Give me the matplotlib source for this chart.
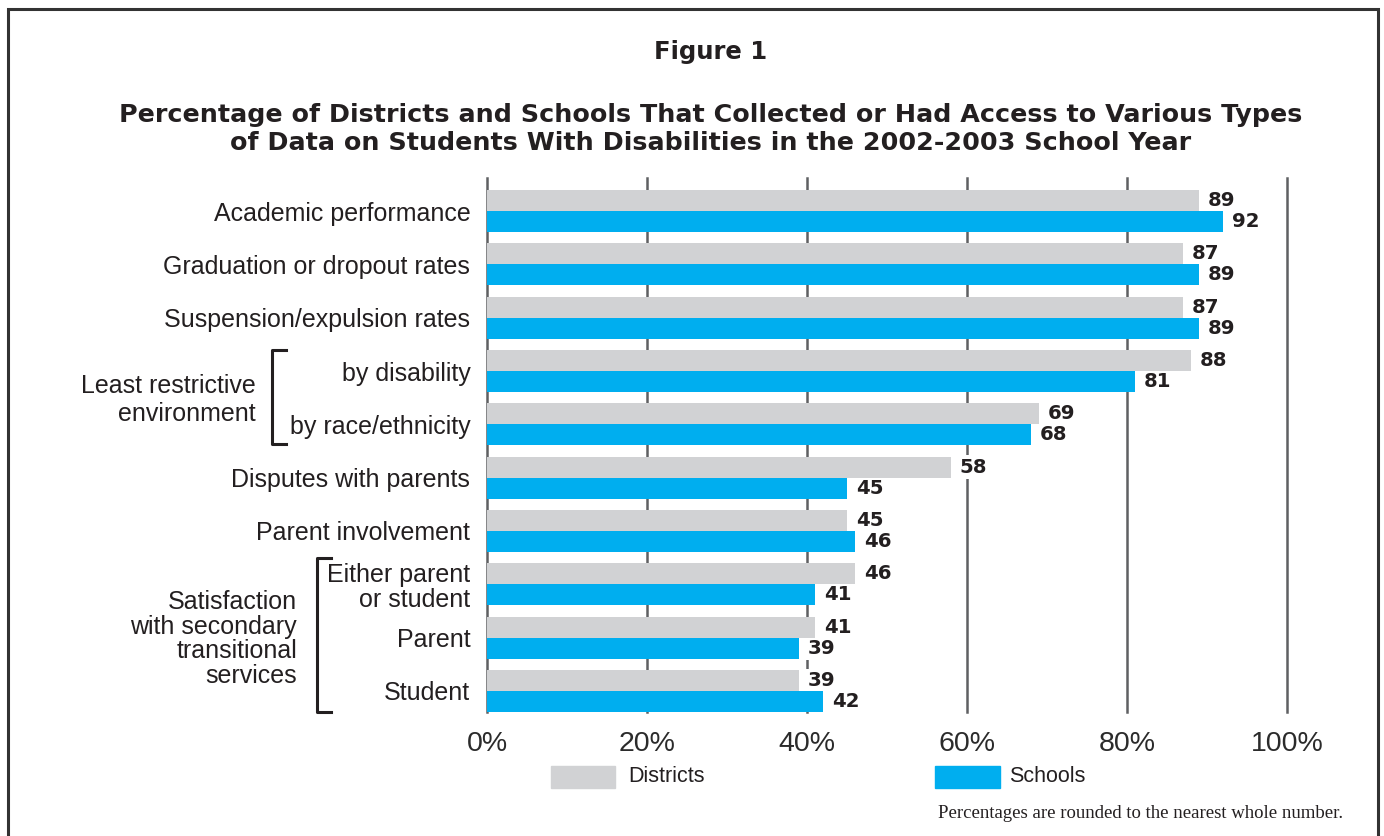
import matplotlib
matplotlib.use("Agg")
import matplotlib.pyplot as plt
from matplotlib.lines import Line2D
from matplotlib.patches import Rectangle
import numpy as np

# data
categories = ["Academic performance", "Graduation or dropout rates", "Suspension/expulsion rates",
              "by disability", "by race/ethnicity", "Disputes with parents", "Parent involvement",
              "Either parent\nor student", "Parent", "Student"]
districts = [89, 87, 87, 88, 69, 58, 45, 46, 41, 39]
schools = [92, 89, 89, 81, 68, 45, 46, 41, 39, 42]
ticks = [0, 20, 40, 60, 80, 100]

GRAY = "#d1d2d4"
BLUE = "#00aeef"
TXT = "#231f20"
W, H = 1384, 836

def fx(px):
    return px / W

def fy(py):
    return 1 - py / H

fig = plt.figure(figsize=(W / 100, H / 100), dpi=100)
ax = fig.add_axes([fx(487), fy(712), fx(1287) - fx(487), fy(178) - fy(712)])

y = np.arange(len(categories))
bh = 0.394
ax.barh(y - bh / 2, districts, height=bh, color=GRAY, zorder=3)
ax.barh(y + bh / 2, schools, height=bh, color=BLUE, zorder=3)
# white box behind the numbers hides the gridlines, bars stay on top
box = dict(facecolor="white", edgecolor="none", pad=1.5)
for i in range(len(categories)):
    ax.text(districts[i] + 1.1, y[i] - bh / 2, str(districts[i]), va="center", ha="left",
            fontsize=14.2, fontweight="bold", color=TXT, family="DejaVu Sans", bbox=box, zorder=2.5)
    ax.text(schools[i] + 1.1, y[i] + bh / 2, str(schools[i]), va="center", ha="left",
            fontsize=14.2, fontweight="bold", color=TXT, family="DejaVu Sans", bbox=box, zorder=2.5)

ax.set_xlim(0, 100)
ax.set_ylim(9.394, -0.619)
ax.set_xticks(ticks)
ax.set_xticklabels([f"{t}%" for t in ticks], fontsize=20.5, color="#2b2b2b", family="Liberation Sans")
ax.tick_params(axis="x", length=0, pad=14)
ax.set_yticks(y)
ax.set_yticklabels(categories, fontsize=18, color=TXT, family="Liberation Sans", linespacing=1.04)
ax.tick_params(axis="y", length=0, pad=12)
ax.grid(axis="x", color="#5f6062", linewidth=1.8)
for gl in ax.get_xgridlines():
    gl.set_clip_on(False)
ax.set_axisbelow(True)
for s in ax.spines.values():
    s.set_visible(False)

# outer frame
fig.add_artist(Rectangle((fx(8), fy(900)), fx(1378) - fx(8), fy(9) - fy(900), fill=False,
                         edgecolor="#333333", linewidth=2.2, transform=fig.transFigure))

# titles
fig.text(fx(711), fy(52), "Figure 1", ha="center", va="center", fontsize=17.5,
         fontweight="bold", color=TXT, family="DejaVu Sans")
fig.text(fx(711), fy(129), "Percentage of Districts and Schools That Collected or Had Access to Various Types\n"
         "of Data on Students With Disabilities in the 2002-2003 School Year",
         ha="center", va="center", fontsize=18.3, fontweight="bold", color=TXT,
         family="DejaVu Sans", linespacing=1.25)

# group brackets
def bracket(x, top, bot, tick):
    fig.add_artist(Line2D([fx(x + tick), fx(x), fx(x), fx(x + tick)],
                          [fy(top), fy(top), fy(bot), fy(bot)], color=TXT, linewidth=2.2,
                          transform=fig.transFigure))

bracket(272, 350, 444, 14)
bracket(317, 558, 712, 14)
fig.text(fx(256), fy(400), "Least restrictive\nenvironment", ha="right", va="center",
         fontsize=18, color=TXT, family="Liberation Sans", linespacing=1.17)
fig.text(fx(297), fy(639), "Satisfaction\nwith secondary\ntransitional\nservices", ha="right",
         va="center", fontsize=18, color=TXT, family="Liberation Sans", linespacing=1.04)

# legend
fig.add_artist(Rectangle((fx(551), fy(788)), fx(615) - fx(551), fy(766) - fy(788),
                         color=GRAY, transform=fig.transFigure))
fig.text(fx(628), fy(777), "Districts", ha="left", va="center", fontsize=15.5, color=TXT,
         family="Liberation Sans")
fig.add_artist(Rectangle((fx(935), fy(788)), fx(1000) - fx(935), fy(766) - fy(788),
                         color=BLUE, transform=fig.transFigure))
fig.text(fx(1009), fy(777), "Schools", ha="left", va="center", fontsize=15.5, color=TXT,
         family="Liberation Sans")

fig.text(fx(938), fy(814), "Percentages are rounded to the nearest whole number.", ha="left",
         va="center", fontsize=13.5, color=TXT, family="Liberation Serif")

fig.savefig("out.png", dpi=100)
